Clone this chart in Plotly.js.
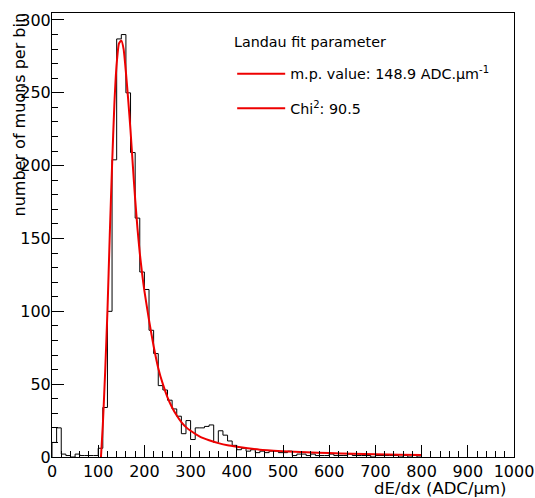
<!DOCTYPE html>
<html>
<head>
<meta charset="utf-8">
<script src="https://cdn.plot.ly/plotly-3.0.1.min.js"></script>
<style>html,body{margin:0;padding:0;background:#fff;}#chart{width:535px;height:498px;}</style>
</head>
<body>
<div id="chart"></div>
<script>
// Histogram: bin width 10, starting at 0 (dE/dx in ADC/um)
const binWidth = 10;
const counts = [10, 20, 2, 1, 0, 2, 1, 1, 1, 1,
  6, 34, 100, 204, 287, 290, 250, 209, 164, 127,
  115, 87, 71, 49, 46, 39, 33, 28, 16, 25,
  12, 20, 20, 21, 22, 10, 18, 15, 11, 8,
  5, 6, 4, 5, 3, 4, 3, 4, 4, 3,
  3, 4, 1, 2, 2, 1, 2, 1, 1, 1,
  2, 1, 1, 1, 2, 1, 1, 1, 1, 0,
  1, 1, 1, 1, 1, 0, 1, 0, 1, 0];

// Landau fit curve
const fitX = [106, 110, 115, 120, 125, 130, 135, 140, 145, 150, 155, 160, 165, 170, 175, 180, 185, 190, 195, 200,
  210, 220, 230, 240, 250, 260, 270, 280, 290, 300, 320, 340, 360, 380, 400, 450, 500, 550, 600, 650, 700, 750, 800];
const fitY = [0, 22, 58, 100, 152, 200, 242, 270, 284, 286, 280, 264, 245, 224, 200, 177, 157, 140, 126, 114,
  94, 76, 61, 50, 41, 34, 28.5, 24, 20.5, 18, 14, 11.5, 9.5, 8, 7, 5, 4, 3.2, 2.7, 2.2, 1.9, 1.6, 1.4];

const legendTitle = 'Landau fit parameter';
const mpvLabel = 'm.p. value: 148.9 ADC.\u03bcm<sup>-1</sup>';
const chiLabel = 'Chi<sup>2</sup>: 90.5';
const xTitle = 'dE/dx (ADC/\u03bcm)';
const yTitle = 'number of muons per bin';

// build step outline from bins
const hx = [0], hy = [0];
counts.forEach((c, i) => { hx.push(i * binWidth); hy.push(c); });
hx.push(counts.length * binWidth); hy.push(counts[counts.length - 1]);
hx.push(counts.length * binWidth); hy.push(0);

const FONT = '"DejaVu Sans", "Liberation Sans", Arial, sans-serif';

const traces = [
  {x: hx, y: hy, type: 'scatter', mode: 'lines', line: {shape: 'hv', color: '#000', width: 1},
   showlegend: false, hoverinfo: 'skip'},
  {x: fitX, y: fitY, type: 'scatter', mode: 'lines', name: mpvLabel, legendgroup: 'a',
   line: {color: '#ee0000', width: 2, shape: 'spline', smoothing: 0.5}},
  {x: [null], y: [null], type: 'scatter', mode: 'lines', name: chiLabel, legendgroup: 'b',
   line: {color: '#ee0000', width: 2}}
];

const layout = {
  width: 535, height: 498,
  margin: {l: 52, r: 21, t: 13, b: 41, pad: 0},
  paper_bgcolor: '#fff', plot_bgcolor: '#fff',
  font: {family: FONT, color: '#000', size: 16},
  showlegend: true,
  legend: {
    x: 0.39, y: 0.899, xanchor: 'left', yanchor: 'top',
    bgcolor: 'rgba(0,0,0,0)', borderwidth: 0,
    font: {size: 14.3, family: FONT},
    traceorder: 'grouped', tracegroupgap: 13, itemwidth: 48
  },
  xaxis: {
    range: [0, 1000], showgrid: false, zeroline: false,
    showline: true, linecolor: '#000', linewidth: 1, mirror: true,
    ticks: 'inside', ticklen: 12, tickcolor: '#000', tickwidth: 1, dtick: 100, tick0: 0,
    minor: {ticks: 'inside', ticklen: 6, dtick: 20, tickcolor: '#000', tickwidth: 1, showgrid: false},
    tickfont: {size: 16, family: FONT}
  },
  yaxis: {
    range: [0, 304.8], showgrid: false, zeroline: false,
    showline: true, linecolor: '#000', linewidth: 1, mirror: true,
    ticks: 'inside', ticklen: 12, tickcolor: '#000', tickwidth: 1, dtick: 50, tick0: 0,
    ticklabelstandoff: -3,
    minor: {ticks: 'inside', ticklen: 6, dtick: 10, tickcolor: '#000', tickwidth: 1, showgrid: false},
    tickfont: {size: 16, family: FONT}
  },
  annotations: [
    {text: legendTitle, xref: 'paper', yref: 'paper', x: 0.39, y: (456.7 - 42) / 443.7,
     xanchor: 'left', yanchor: 'middle', showarrow: false, font: {size: 14.3, family: FONT}},
    {text: xTitle, xref: 'paper', yref: 'paper', x: 0.986, y: -0.044, xanchor: 'right', yanchor: 'top',
     showarrow: false, font: {size: 16.5, family: FONT}},
    {text: yTitle, xref: 'paper', yref: 'paper', x: -0.07, y: 1.005, xanchor: 'center', yanchor: 'top',
     textangle: -90, showarrow: false, font: {size: 16, family: FONT}}
  ]
};

Plotly.newPlot('chart', traces, layout, {staticPlot: true, displayModeBar: false});
</script>
</body>
</html>
